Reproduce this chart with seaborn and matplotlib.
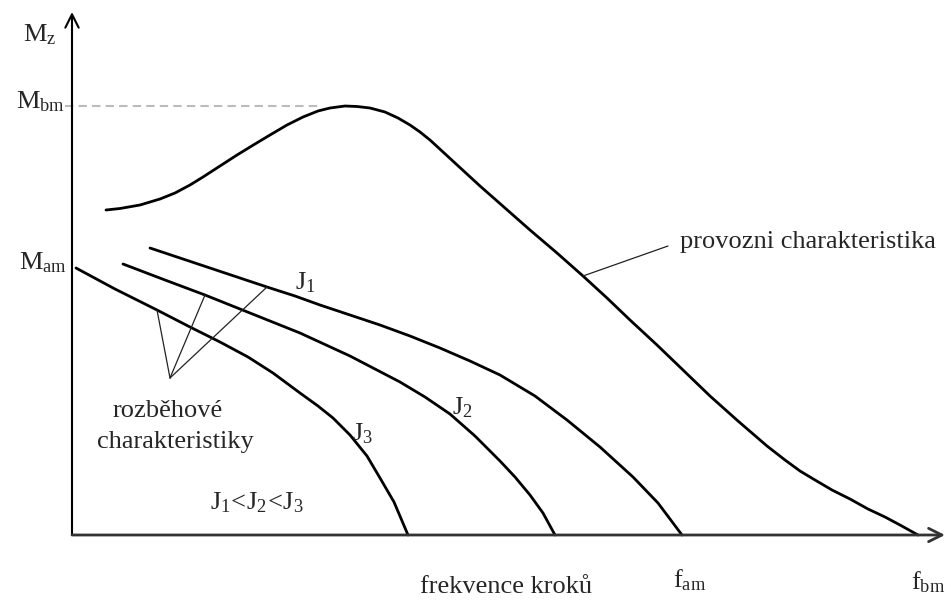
import numpy as np
import pandas as pd
import seaborn as sns
import matplotlib
matplotlib.use("Agg")
import matplotlib.pyplot as plt

# --- curve data (frequency f, torque M; arbitrary units) ---
# operating (pull-out) characteristic
prov_f = [34, 48, 68, 88, 103, 118, 131, 148, 165, 183, 198, 215, 231, 246, 258, 273,
          285, 298, 313, 326, 338, 348, 358, 383, 408, 433, 458, 485, 511, 535, 558,
          585, 611, 638, 666, 695, 713, 728, 743, 760, 778, 796, 813, 828, 846]
prov_M = [325, 326.5, 330, 336, 342, 350, 358, 369, 380, 391, 400, 410, 418, 424, 427,
          429, 428.5, 427, 423, 417, 410, 403, 395, 372, 349, 327, 305, 282, 259, 237,
          215, 190, 165, 139, 114, 89, 75, 64, 55, 45, 36, 26, 18, 10, 0]

# start-up (pull-in) characteristics for J1 < J2 < J3
j1_f = [78, 108, 138, 168, 195, 223, 248, 278, 308, 338, 368, 398, 428, 463, 495, 528,
        561, 586, 610]
j1_M = [287, 277, 267, 257, 248, 239, 230, 220, 210, 199, 187, 174, 160, 139, 115, 88,
        58, 32, 0]

j2_f = [51, 93, 133, 178, 228, 278, 328, 353, 378, 403, 428, 443, 458, 471, 483]
j2_M = [271, 255, 240, 222, 202, 179, 153, 138, 121, 99, 74, 58, 40, 22, 0]

j3_f = [4, 43, 85, 118, 148, 176, 201, 228, 246, 261, 278, 295, 308, 322, 336]
j3_M = [267, 246, 225, 208, 193, 178, 162, 142, 129, 117, 100, 79, 57, 33, 0]

M_bm = 429
M_am = 267
f_am = 610
f_bm = 846

frames = []
for name, f, m in [("provozni", prov_f, prov_M), ("J1", j1_f, j1_M),
                   ("J2", j2_f, j2_M), ("J3", j3_f, j3_M)]:
    frames.append(pd.DataFrame({"f": f, "M": m, "curve": name,
                                "order": np.arange(len(f))}))
df = pd.concat(frames, ignore_index=True)

sns.set_theme(style="white")
plt.rcParams["font.family"] = ["Liberation Serif", "DejaVu Serif"]
plt.rcParams["mathtext.fontset"] = "custom"
plt.rcParams["mathtext.rm"] = "Liberation Serif"
plt.rcParams["mathtext.it"] = "Liberation Serif:italic"

fig = plt.figure(figsize=(9.51, 6.03), dpi=100)
ax = fig.add_axes([0, 0, 1, 1])

sns.lineplot(data=df, x="f", y="M", units="curve", estimator=None, sort=False,
             color="black", linewidth=2.0, ax=ax, legend=False)
for line in ax.get_lines():
    line.set_solid_joinstyle("round")
    line.set_solid_capstyle("round")

ax.set_xlim(-72, 879)
ax.set_ylim(-68, 535)
ax.set_axis_off()

# axes with open arrowheads
ax.annotate("", xy=(0, 523), xytext=(0, 0),
            arrowprops=dict(arrowstyle="->,head_length=0.8,head_width=0.4",
                            color="black", lw=1.5, shrinkA=0, shrinkB=0))
ax.annotate("", xy=(873, 0), xytext=(0, 0),
            arrowprops=dict(arrowstyle="->,head_length=0.8,head_width=0.4",
                            color="#333333", lw=2.0, shrinkA=0, shrinkB=0))

# breakdown torque reference line
ax.plot([-7, 248], [M_bm, M_bm], color="#bbbbbb", lw=1.5, dashes=(4, 2.5))

# leader lines
apex = (98, 157)
for tip in [(85, 225), (133, 240), (195, 248)]:
    ax.plot([apex[0], tip[0]], [apex[1], tip[1]], color="#222222", lw=0.9)
ax.plot([511, 596], [259, 289], color="#222222", lw=0.9)

fs = 19
ax.text(-32, 500, r"$\mathrm{M_z}$", fontsize=fs, ha="center", va="center")
ax.text(-32, 433, r"$\mathrm{M_{bm}}$", fontsize=fs, ha="center", va="center")
ax.text(-29, 272, r"$\mathrm{M_{am}}$", fontsize=fs, ha="center", va="center")
ax.text(f_am + 8, -45, r"$\mathrm{f_{am}}$", fontsize=fs, ha="center", va="center")
ax.text(f_bm + 10, -47, r"$\mathrm{f_{bm}}$", fontsize=fs, ha="center", va="center")
ax.text(434, -52, "frekvence kroků", fontsize=fs, ha="center", va="center")
ax.text(608, 293, "provozni charakteristika", fontsize=fs, ha="left", va="center")
ax.text(96, 124, "rozběhové", fontsize=fs, ha="center", va="center")
ax.text(103, 93, "charakteristiky", fontsize=fs, ha="center", va="center")
ax.text(233, 252, r"$\mathrm{J_1}$", fontsize=fs, ha="center", va="center")
ax.text(390, 127, r"$\mathrm{J_2}$", fontsize=fs, ha="center", va="center")
ax.text(290, 101, r"$\mathrm{J_3}$", fontsize=fs, ha="center", va="center")
ax.text(185, 32, r"$\mathrm{J_1}\!<\!\mathrm{J_2}\!<\!\mathrm{J_3}$", fontsize=fs,
        ha="center", va="center")

fig.savefig("out.png", dpi=100, facecolor="white")
